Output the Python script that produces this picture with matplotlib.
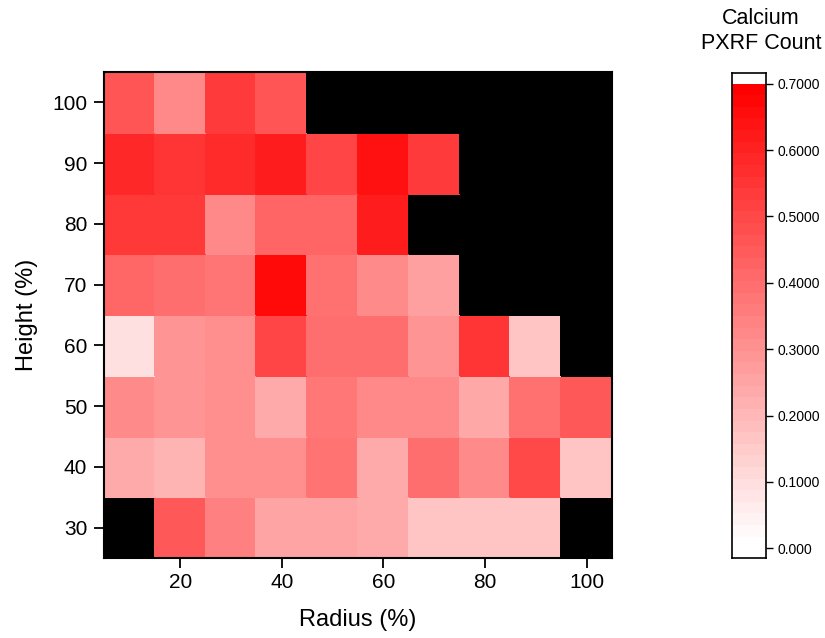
import numpy as np
import matplotlib
matplotlib.use("Agg")
import matplotlib.pyplot as plt
from matplotlib.colors import LinearSegmentedColormap, ListedColormap, BoundaryNorm

plt.rcParams['font.family'] = ['Liberation Sans', 'DejaVu Sans']

radius = [10, 20, 30, 40, 50, 60, 70, 80, 90, 100]
height = [30, 40, 50, 60, 70, 80, 90, 100]
nan = np.nan
# rows: height 30 .. 100 ; columns: radius 10 .. 100
calcium = [
    [nan, 0.458, 0.349, 0.250, 0.250, 0.233, 0.162, 0.162, 0.162, nan],    # 30
    [0.233, 0.206, 0.310, 0.310, 0.385, 0.233, 0.398, 0.320, 0.502, 0.162],  # 40
    [0.320, 0.294, 0.310, 0.233, 0.373, 0.327, 0.327, 0.240, 0.390, 0.458],  # 50
    [0.085, 0.294, 0.310, 0.511, 0.398, 0.398, 0.294, 0.554, 0.162, nan],    # 60
    [0.420, 0.398, 0.379, 0.673, 0.390, 0.320, 0.261, nan, nan, nan],        # 70
    [0.546, 0.546, 0.327, 0.423, 0.423, 0.623, nan, nan, nan, nan],          # 80
    [0.590, 0.554, 0.584, 0.623, 0.511, 0.651, 0.540, nan, nan, nan],        # 90
    [0.467, 0.327, 0.541, 0.467, nan, nan, nan, nan, nan, nan],              # 100
]
cbar_ticks = [0.0, 0.1, 0.2, 0.3, 0.4, 0.5, 0.6, 0.7]
cbar_labels = ['0.000', '0.1000', '0.2000', '0.3000', '0.4000', '0.5000', '0.6000', '0.7000']
vmin, vmax = 0.0, 0.7

fig = plt.figure(figsize=(8.25, 6.38), dpi=100)
ax = fig.add_axes([104/825, 1-558/638, (612-104)/825, (558-72)/638])

cmap = LinearSegmentedColormap.from_list('wr', ['#ffffff', '#ff0000'], N=256)
cmap.set_bad('black')
data = np.ma.masked_invalid(np.array(calcium))
x_edges = np.concatenate([[radius[0] - 5], np.array(radius) + 5])
y_edges = np.concatenate([[height[0] - 5], np.array(height) + 5])
ax.pcolormesh(x_edges, y_edges, data, cmap=cmap, vmin=vmin, vmax=vmax,
              edgecolor='face', linewidth=0.3)
ax.set_xlim(5, 105)
ax.set_ylim(25, 105)
ax.set_xticks([20, 40, 60, 80, 100])
ax.set_yticks(height)
ax.tick_params(axis='both', direction='out', length=7, width=1.3, labelsize=15)
ax.tick_params(axis='x', pad=4)
ax.tick_params(axis='y', pad=5)
for s in ax.spines.values():
    s.set_linewidth(1.5)
ax.set_xlabel('Radius (%)', fontsize=17, labelpad=12)
ax.set_ylabel('Height (%)', fontsize=17, labelpad=10)

# colorbar
cax = fig.add_axes([732/825, 1-558/638, 34/825, (558-73)/638])
nlev = 40
bounds = np.linspace(0, 0.7, nlev + 1)
cols = [cmap(i / (nlev - 1)) for i in range(nlev)]
cb_lo, cb_hi = -0.0146, 0.716
all_bounds = np.concatenate([[cb_lo], bounds[1:-1], [0.7, cb_hi]])
band_vals = np.concatenate([[0.0], (bounds[1:-1] + bounds[2:]) / 2, [0.8]])
band_vals = band_vals[:len(all_bounds) - 1]
cmap_bar = ListedColormap(cols + ['#ffffff'])
norm_bar = BoundaryNorm(np.concatenate([bounds, [1.0]]), cmap_bar.N)
cax.pcolormesh([0, 1], all_bounds, band_vals.reshape(-1, 1), cmap=cmap_bar, norm=norm_bar)
cax.set_ylim(cb_lo, cb_hi)
cax.set_xlim(0, 1)
cax.set_xticks([])
cax.yaxis.tick_right()
cax.set_yticks(cbar_ticks)
cax.set_yticklabels(cbar_labels)
cax.tick_params(axis='y', direction='out', length=5, width=1.0, labelsize=10, pad=3)
for s in cax.spines.values():
    s.set_linewidth(1.2)
fig.text(761/825, 1-31/638, 'Calcium\nPXRF Count', ha='center', va='center',
         fontsize=15.5, linespacing=1.3)

fig.savefig('out.png', dpi=100)
